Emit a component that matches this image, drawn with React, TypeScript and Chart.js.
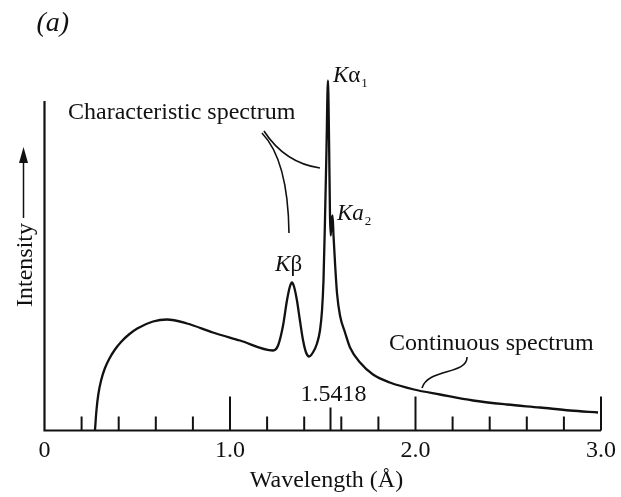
import React, { useEffect, useRef } from 'react';
import { Chart, registerables } from 'chart.js';

Chart.register(...registerables);

// Wavelength (Å) and relative intensity
const wavelength = [
  0.272, 0.28, 0.29, 0.305, 0.325, 0.35, 0.38, 0.415, 0.455, 0.5, 0.585, 0.66, 0.768, 0.908, 1.054, 1.232,
  1.259, 1.286, 1.307, 1.323, 1.334, 1.345, 1.361, 1.377, 1.394, 1.41, 1.426, 1.447, 1.469, 1.485,
  1.496, 1.504, 1.512, 1.52, 1.528, 1.534, 1.539, 1.543, 1.547, 1.553, 1.558, 1.566, 1.577, 1.593,
  1.62, 1.647, 1.701, 1.771, 1.862, 1.992, 2.132, 2.31, 2.493, 2.671, 2.833, 2.984,
];
const intensity = [
  0, 20, 36, 50, 62, 72, 81, 89, 96, 102, 109, 111, 107, 98, 90, 80,
  85, 105, 130, 144, 148, 144, 130, 110, 90, 78, 74, 78, 87, 100,
  120, 150, 210, 280, 350, 290, 215, 195, 208, 215, 195, 168, 137, 115,
  98, 83, 68, 56, 48, 41, 36, 30, 26, 23, 20, 18,
];

const minorTicks = [0.2, 0.4, 0.6, 0.8, 1.2, 1.4, 1.6, 1.8, 2.2, 2.4, 2.6, 2.8];
const majorTicks = [1.0, 2.0, 3.0];
const tickLabelValues = [0, 1.0, 2.0, 3.0];
const tickLabels = ['0', '1.0', '2.0', '3.0'];
const markedWavelength = 1.5418;
const markedLabel = '1.5418';

const SERIF = '"Liberation Serif", "Times New Roman", serif';
const INK = '#111111';

export default function App() {
  const ref = useRef<HTMLCanvasElement>(null);

  useEffect(() => {
    const canvas = ref.current!;
    const deco = {
      id: 'deco',
      afterDraw(chart: any) {
        const ctx = chart.ctx as CanvasRenderingContext2D;
        const xs = chart.scales.x;
        const ys = chart.scales.y;
        const X = (v: number) => xs.getPixelForValue(v);
        const Y = (v: number) => ys.getPixelForValue(v);
        const base = Y(0);
        const left = X(0);
        ctx.save();
        ctx.strokeStyle = INK;
        ctx.fillStyle = INK;
        ctx.lineCap = 'butt';

        // axes
        ctx.lineWidth = 2.2;
        ctx.beginPath();
        ctx.moveTo(left, Y(329.5));
        ctx.lineTo(left, base);
        ctx.lineTo(X(3.0), base);
        ctx.stroke();

        // ticks (inward)
        ctx.lineWidth = 2;
        const tick = (v: number, h: number) => {
          ctx.beginPath();
          ctx.moveTo(X(v), base);
          ctx.lineTo(X(v), base - h);
          ctx.stroke();
        };
        minorTicks.forEach((v) => tick(v, 14));
        majorTicks.forEach((v) => tick(v, 34));
        tick(markedWavelength, 23);

        // tick labels
        ctx.font = `24px ${SERIF}`;
        ctx.textAlign = 'center';
        ctx.textBaseline = 'alphabetic';
        tickLabelValues.forEach((v, i) => ctx.fillText(tickLabels[i], X(v), base + 26));
        ctx.fillText(markedLabel, X(markedWavelength) + 3, base - 29.5);

        // x axis title
        ctx.fillText('Wavelength (Å)', X(1.52), base + 56);

        // (a)
        ctx.font = `italic 28px ${SERIF}`;
        ctx.textAlign = 'left';
        ctx.fillText('(a)', left - 8, base - 400);

        // Intensity with arrow (rotated)
        ctx.save();
        ctx.translate(left - 13, base - 123.5);
        ctx.rotate(-Math.PI / 2);
        ctx.font = `24px ${SERIF}`;
        ctx.textAlign = 'left';
        ctx.fillText('Intensity', 0, 0);
        ctx.lineWidth = 1.5;
        ctx.beginPath();
        ctx.moveTo(89, -8);
        ctx.lineTo(148, -8);
        ctx.stroke();
        ctx.beginPath();
        ctx.moveTo(160, -8);
        ctx.lineTo(144, -12.5);
        ctx.lineTo(144, -3.5);
        ctx.closePath();
        ctx.fill();
        ctx.restore();

        // Characteristic spectrum label + leaders
        ctx.font = `24px ${SERIF}`;
        ctx.textAlign = 'left';
        ctx.fillText('Characteristic spectrum', X(0.127), Y(311.5));
        ctx.lineWidth = 1.6;
        ctx.beginPath();
        ctx.moveTo(X(1.183), Y(299.5));
        ctx.quadraticCurveTo(X(1.296), Y(267.5), X(1.485), Y(262.5));
        ctx.stroke();
        ctx.beginPath();
        ctx.moveTo(X(1.172), Y(297.5));
        ctx.quadraticCurveTo(X(1.313), Y(270.5), X(1.318), Y(197.5));
        ctx.stroke();

        // Continuous spectrum label + leader
        ctx.fillText('Continuous spectrum', X(1.857), Y(80.5));
        ctx.beginPath();
        ctx.moveTo(X(2.278), Y(73.5));
        ctx.bezierCurveTo(X(2.278), Y(55.5), X(2.067), Y(62.5), X(2.035), Y(42.5));
        ctx.stroke();

        // Peak labels
        const peakLabel = (x: number, y: number, k: string, sub: string, size: number) => {
          ctx.font = `italic ${size}px ${SERIF}`;
          ctx.textAlign = 'left';
          ctx.fillText('K', x, y);
          let w = ctx.measureText('K').width;
          ctx.font = k === 'a' ? `italic ${size}px ${SERIF}` : `${size}px ${SERIF}`;
          ctx.fillText(k, x + w, y);
          w += ctx.measureText(k).width;
          if (sub) {
            ctx.font = `${Math.round(size * 0.55)}px ${SERIF}`;
            ctx.fillText(sub, x + w + 1, y + 5);
          }
        };
        peakLabel(X(1.555), Y(348.5), 'α', '1', 23);
        peakLabel(X(1.577), Y(210.5), 'a', '2', 23);
        peakLabel(X(1.243), Y(159.5), 'β', '', 23);

        ctx.restore();
      },
    };

    const chart = new Chart(canvas, {
      type: 'line',
      data: {
        datasets: [
          {
            data: wavelength.map((w, i) => ({ x: w, y: intensity[i] })),
            borderColor: INK,
            borderWidth: 2.3,
            pointRadius: 0,
            cubicInterpolationMode: 'monotone',
            fill: false,
            clip: false as any,
          },
        ],
      },
      options: {
        responsive: false,
        animation: false,
        devicePixelRatio: 1,
        layout: { padding: { left: 44.5, right: 20, top: 70.5, bottom: 66.5 } },
        plugins: { legend: { display: false }, tooltip: { enabled: false } },
        scales: {
          x: { type: 'linear', min: 0, max: 3, display: false },
          y: { type: 'linear', min: 0, max: 360, display: false },
        },
      },
      plugins: [deco],
    });
    return () => chart.destroy();
  }, []);

  return (
    <canvas
      ref={ref}
      width={621}
      height={497}
      style={{ display: 'block', position: 'absolute', left: 0, top: 0 }}
    />
  );
}
